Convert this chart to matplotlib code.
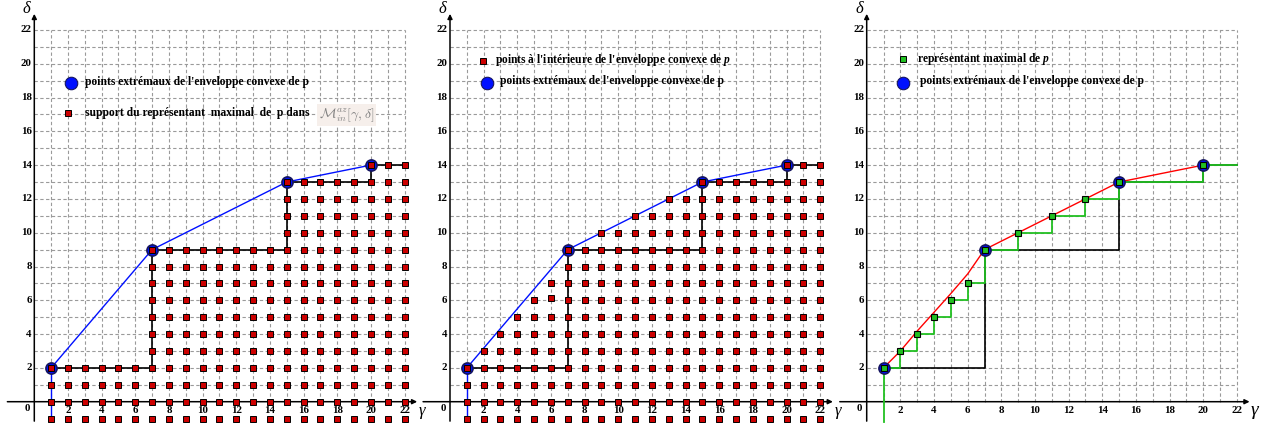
import numpy as np
import matplotlib.pyplot as plt

plt.rcParams['font.family'] = ['Liberation Serif', 'DejaVu Serif']
plt.rcParams['mathtext.fontset'] = 'custom'
plt.rcParams['mathtext.it'] = 'Liberation Serif:italic:bold'
plt.rcParams['mathtext.rm'] = 'Liberation Serif:bold'

# extreme points of the convex hull of p
extreme_g = [1, 7, 15, 20]
extreme_d = [2, 9, 13, 14]

# maximal representative staircase (support boundary)
support_g = [1, 7, 15, 20, 22]
support_d = [2, 9, 13, 14, 14]

# top of support column for each gamma = 1..22
gammas = list(range(1, 23))
support_top = [2, 2, 2, 2, 2, 2, 9, 9, 9, 9, 9, 9, 9, 9, 13, 13, 13, 13, 13, 14, 14, 14]
# top of points inside the convex hull for each gamma
hull_top = [2, 3, 4, 5, 6, 7, 9, 9, 10, 10, 11, 11, 12, 12, 13, 13, 13, 13, 13, 14, 14, 14]
bottom_row = -1
# one square of panel 2 is drawn slightly off the grid
odd_g, odd_d, odd_draw = 6, 6, 6.15

# maximal representative of p (panel 3)
rep_g = [1, 2, 3, 4, 5, 6, 7, 9, 11, 13, 15, 20]
rep_d = [2, 3, 4, 5, 6, 7, 9, 10, 11, 12, 13, 14]
# red curve of panel 3
curve_g = [1, 2, 3, 4, 5, 6, 7, 9, 11, 13, 15, 20]
curve_d = [2, 3, 4.18, 5.29, 6.4, 7.56, 9, 10, 11, 12, 13, 14]

ticks = list(range(2, 23, 2))

RED = '#cc0000'
BLUE = '#0010ff'
NAVY = '#151560'
GREEN = '#22c022'
GRID = '#9a9a9a'

W, H = 1262, 428
UX, UY, Y0 = 16.83, 16.9, 401.7
panels = [(0, 420, 34.3), (420, 840, 450.0), (840, 1262, 866.7)]

fig = plt.figure(figsize=(W / 100, H / 100), dpi=100)
axes = []
for x0, x1, a0 in panels:
    ax = fig.add_axes([x0 / W, 0, (x1 - x0) / W, 1])
    ax.set_xlim(-(a0 - x0) / UX, (x1 - a0) / UX)
    ax.set_ylim(-(H - Y0) / UY, Y0 / UY)
    ax.axis('off')
    axes.append(ax)


def base(ax, gamma_size=12):
    for g in range(1, 23):
        ax.plot([g, g], [0, 22], color=GRID, lw=0.8, ls=(0, (3, 2.2)), zorder=1)
    for d in range(1, 23):
        ax.plot([0, 22], [d, d], color=GRID, lw=0.8, ls=(0, (3, 2.2)), zorder=1)
    ax.annotate('', xy=(22.75, 0), xytext=(-1.6, 0),
                arrowprops=dict(arrowstyle='-|>', lw=1.1, color='black', mutation_scale=7,
                                shrinkA=0, shrinkB=0), zorder=2)
    ax.annotate('', xy=(0, 22.95), xytext=(0, -1.15),
                arrowprops=dict(arrowstyle='-|>', lw=1.1, color='black', mutation_scale=7,
                                shrinkA=0, shrinkB=0), zorder=2)
    for t in ticks:
        ax.text(t, -0.55, str(t), ha='center', va='center', fontsize=7.8, fontweight='bold')
        ax.text(-0.15, t, str(t), ha='right', va='center', fontsize=7.8, fontweight='bold')
    ax.text(-0.25, -0.4, '0', ha='right', va='center', fontsize=7.8, fontweight='bold')
    ax.text(-0.45, 23.25, 'δ', ha='center', va='center', fontsize=12, fontstyle='italic')
    ax.text(23.05, -0.55, 'γ', ha='center', va='center', fontsize=gamma_size, fontstyle='italic')


def squares(ax, tops, odd=False):
    xs, ys = [], []
    for g, top in zip(gammas, tops):
        for d in range(bottom_row, top + 1):
            if odd and g == odd_g and d == odd_d:
                d = odd_draw
            xs.append(g)
            ys.append(d)
    ax.plot(xs, ys, 's', color=RED, ms=4.3, mec='black', mew=0.7, zorder=6)


def hull(ax, color=BLUE):
    ax.plot(extreme_g, extreme_d, color=color, lw=1, zorder=3)
    ax.plot(extreme_g, extreme_d, 'o', color=BLUE, ms=8, mec=NAVY, mew=1.2, zorder=5)


# panel 1
ax = axes[0]
base(ax)
ax.plot(support_g, support_d, drawstyle='steps-post', color='black', lw=1.2, zorder=3)
ax.plot([1, 1], [2, -1], color=BLUE, lw=1, zorder=3)
hull(ax)
squares(ax, support_top)
ax.plot([2.18], [18.85], 'o', color=BLUE, ms=9, mec=NAVY, mew=0.8, zorder=5)
ax.text(3.0, 18.9, "points extrémaux de l'enveloppe convexe de p", fontsize=8.3,
        fontweight='bold', va='center')
ax.plot([2.0], [17.1], 's', color=RED, ms=4.3, mec='black', mew=0.7, zorder=6)
ax.text(3.0, 17.1, "support du représentant  maximal  de  p dans", fontsize=8.3,
        fontweight='bold', va='center')
ax.text(16.9, 16.95, r'$\mathcal{M}^{az}_{in}[\gamma,\delta]$', fontsize=10, color='#808080',
        va='center', math_fontfamily='cm',
        bbox=dict(boxstyle='square,pad=0.15', fc='#f6efeb', ec='none'), zorder=7)

# panel 2
ax = axes[1]
base(ax)
ax.plot(support_g, support_d, drawstyle='steps-post', color='black', lw=1.2, zorder=3)
ax.plot([1, 1], [2, -1], color=BLUE, lw=1, zorder=3)
hull(ax)
squares(ax, hull_top, odd=True)
ax.plot([1.96], [20.15], 's', color=RED, ms=4.3, mec='black', mew=0.7, zorder=6)
ax.text(2.65, 20.2, r"points à l'intérieure de l'enveloppe convexe de $p$", fontsize=8.3,
        fontweight='bold', va='center')
ax.plot([2.18], [18.85], 'o', color=BLUE, ms=9, mec=NAVY, mew=0.8, zorder=5)
ax.text(3.0, 18.95, "points extrémaux de l'enveloppe convexe de p", fontsize=8.3,
        fontweight='bold', va='center')

# panel 3
ax = axes[2]
base(ax, gamma_size=14)
ax.plot(support_g, support_d, drawstyle='steps-post', color='black', lw=1.2, zorder=3)
ax.plot(extreme_g, extreme_d, 'o', color=BLUE, ms=8, mec=NAVY, mew=1.2, zorder=5)
ax.plot(curve_g, curve_d, color='red', lw=1, zorder=4)
ax.plot(rep_g + [22], rep_d + [rep_d[-1]], drawstyle='steps-post', color=GREEN, lw=1.3, zorder=4)
ax.plot([1, 1], [2, -1.2], color=GREEN, lw=1.3, zorder=4)
ax.plot(rep_g, rep_d, 's', color=GREEN, ms=5, mec='black', mew=0.8, zorder=6)
ax.plot([2.16], [20.3], 's', color=GREEN, ms=4.3, mec='black', mew=0.7, zorder=6)
ax.text(3.0, 20.3, r"représentant maximal de $p$", fontsize=8.3, fontweight='bold', va='center')
ax.plot([2.16], [18.85], 'o', color=BLUE, ms=9, mec=NAVY, mew=0.8, zorder=5)
ax.text(3.17, 18.95, "points extrémaux de l'enveloppe convexe de p", fontsize=8.3,
        fontweight='bold', va='center')

fig.savefig('out.png', dpi=100)
